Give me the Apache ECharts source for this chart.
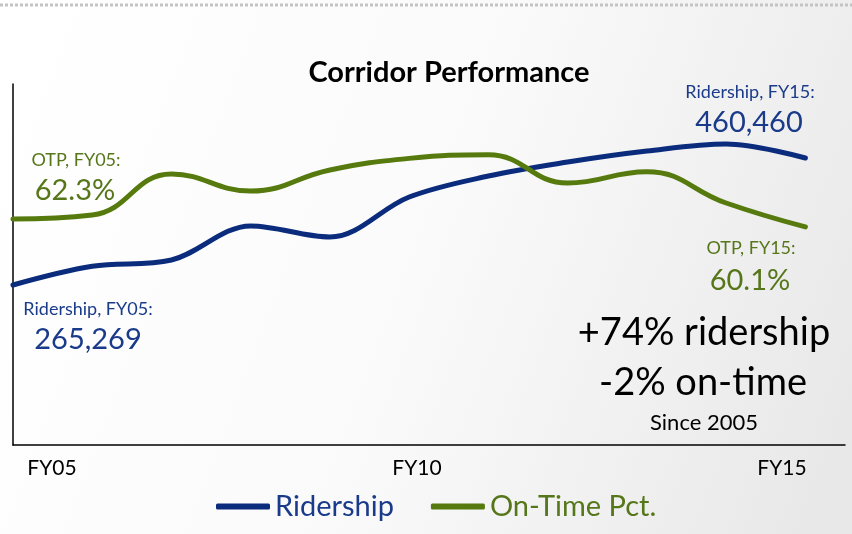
<!DOCTYPE html>
<html>
<head>
<meta charset="utf-8">
<script src="https://cdn.jsdelivr.net/npm/echarts@6/dist/echarts.min.js"></script>
<style>
html,body{margin:0;padding:0;background:#fff}
#main{width:852px;height:534px}
</style>
</head>
<body>
<div id="main"></div>
<script>
// fiscal years along the x axis
var years = ['FY05','FY06','FY07','FY08','FY09','FY10','FY11','FY12','FY13','FY14','FY15'];
// only every 5th year is labelled
var tickLabels = ['FY05','','','','','FY10','','','','','FY15'];
// corridor ridership
var ridership = [265269, 294000, 303700, 356000, 339000, 400500, 432800, 454300, 471200, 482000, 460460];
// on-time performance, %
var otp = [62.3, 63.4, 74.7, 70.0, 75.8, 79.0, 80.0, 72.2, 75.3, 66.7, 60.1];

var blue = '#0b2c7c';
var green = '#567a0e';
var blueText = '#1a3a8a';
var greenText = '#56761a';
var font = 'Lato, "Open Sans", sans-serif';

var last = years.length - 1;
var ridPct = Math.round((ridership[last] / ridership[0] - 1) * 100);
var otpPct = Math.round(otp[last] - otp[0]);

function txt(s, x, y, size, color) {
  return {
    type: 'text', x: x, y: y, silent: true,
    style: {
      text: s, fill: color, fontSize: size, fontFamily: font,
      textAlign: 'center', textVerticalAlign: 'middle'
    }
  };
}

var chart = echarts.init(document.getElementById('main'));

var option = {
  backgroundColor: {
    type: 'linear', x: 0, y: 0.2, x2: 1, y2: 0.8,
    colorStops: [
      {offset: 0, color: '#ffffff'},
      {offset: 0.5, color: '#fafafa'},
      {offset: 1, color: '#e8e8e8'}
    ]
  },
  title: {
    text: 'Corridor Performance',
    left: 444, top: 53,
    textAlign: 'center',
    textStyle: {fontFamily: font, fontSize: 29, fontWeight: 'bold', color: '#000'}
  },
  legend: {
    left: 211, top: 487,
    icon: 'roundRect',
    itemWidth: 54, itemHeight: 6, itemGap: 37,
    data: [
      {name: 'Ridership', textStyle: {color: blueText}},
      {name: 'On-Time Pct.', textStyle: {color: greenText}}
    ],
    textStyle: {fontFamily: font, fontSize: 29}
  },
  grid: [
    {left: 13, right: 7, top: 84, bottom: 89},
    {left: 52, right: 70, top: 440, bottom: 89}
  ],
  xAxis: [
    {
      type: 'value', gridIndex: 0, min: 0, max: 10.5,
      splitLine: {show: false}, axisTick: {show: false}, axisLabel: {show: false},
      axisLine: {show: true, lineStyle: {color: '#000', width: 1.5}}
    },
    {
      type: 'category', gridIndex: 1, boundaryGap: false, data: tickLabels,
      axisLine: {show: false}, axisTick: {show: false},
      axisLabel: {interval: 0, margin: 13, fontFamily: font, fontSize: 21, color: '#000'}
    }
  ],
  yAxis: [
    {
      type: 'value', gridIndex: 0, min: 19350, max: 574200,
      splitLine: {show: false}, axisTick: {show: false}, axisLabel: {show: false},
      axisLine: {show: true, lineStyle: {color: '#000', width: 1.5}}
    },
    {
      type: 'value', gridIndex: 0, min: 0, max: 99.5, position: 'right',
      splitLine: {show: false}, axisTick: {show: false}, axisLabel: {show: false},
      axisLine: {show: false}
    },
    {type: 'value', gridIndex: 1, show: false}
  ],
  series: [
    {
      name: 'Ridership', type: 'line', xAxisIndex: 0, yAxisIndex: 0,
      smooth: 0.35, symbol: 'none',
      lineStyle: {color: blue, width: 5, cap: 'round'},
      itemStyle: {color: blue},
      data: ridership.map(function (v, i) { return [i, v]; })
    },
    {
      name: 'On-Time Pct.', type: 'line', xAxisIndex: 0, yAxisIndex: 1,
      smooth: 0.45, symbol: 'none',
      lineStyle: {color: green, width: 5, cap: 'round'},
      itemStyle: {color: green},
      data: otp.map(function (v, i) { return [i, v]; })
    }
  ],
  graphic: [
    {
      type: 'line', silent: true,
      shape: {x1: 0, y1: 5, x2: 852, y2: 5},
      style: {stroke: '#c4c4c4', lineWidth: 3, lineDash: [3, 2]}
    },
    txt('OTP, ' + years[0] + ':', 76, 160, 18, greenText),
    txt(otp[0].toFixed(1) + '%', 75, 191, 29, greenText),
    txt('Ridership, ' + years[0] + ':', 88, 309, 18, blueText),
    txt(ridership[0].toLocaleString('en-US'), 88, 340, 29, blueText),
    txt('Ridership, ' + years[last] + ':', 750, 92, 18, blueText),
    txt(ridership[last].toLocaleString('en-US'), 749, 123, 29, blueText),
    txt('OTP, ' + years[last] + ':', 751, 248, 18, greenText),
    txt(otp[last].toFixed(1) + '%', 750, 281, 29, greenText),
    txt('+' + ridPct + '% ridership', 704, 333, 38, '#000'),
    txt(otpPct + '% on-time', 703, 383, 38, '#000'),
    txt('Since 2005', 704, 423, 22, '#000')
  ]
};

chart.setOption(option);
</script>
</body>
</html>
